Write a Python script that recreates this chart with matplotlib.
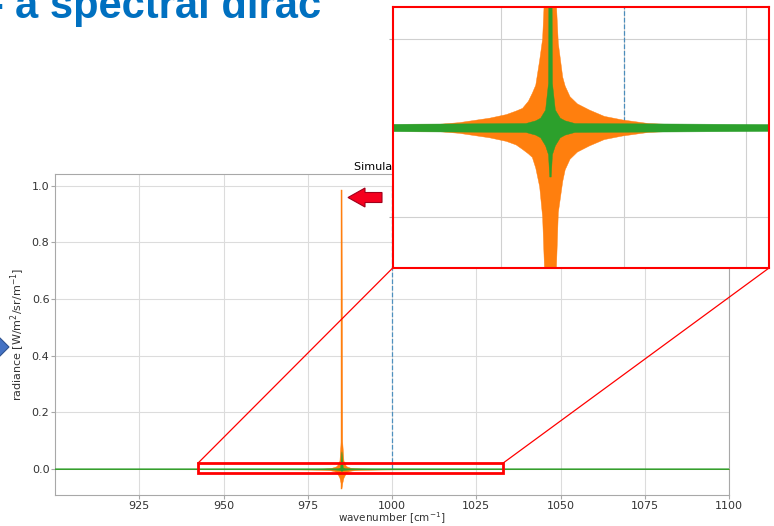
import matplotlib
matplotlib.use("Agg")
import matplotlib.pyplot as plt
from matplotlib.patches import Rectangle, Polygon, ConnectionPatch
import numpy as np

# --- data ----------------------------------------------------------------
dirac_x = 1000.0          # position of the input dirac (dashed)
dirac_height = 1.0
peak_x = 985.0            # where the simulated line shows up

# orange: simulated spectrum, envelope around the peak (offsets in cm-1)
orange_dx = [-100, -44, -32, -23, -18.6, -12.4, -9, -7, -5.7, -4.5, -3.7, -3, -2.2,
             -1.6, -1.2, -0.6, -0.2, 0, 0.2, 0.6, 1.2, 1.6, 2.5, 3, 4, 5.5, 8, 11,
             14.7, 20, 28, 44, 115]
orange_hi = [0.0002, 0.0002, 0.0003, 0.0004, 0.0006, 0.0011, 0.0015, 0.0019, 0.0022,
             0.003, 0.0039, 0.0048, 0.0076, 0.010, 0.015, 0.03, 0.1, 0.986, 0.1, 0.03,
             0.014, 0.0095, 0.0057, 0.0047, 0.0035, 0.0027, 0.002, 0.0013, 0.0009,
             0.0005, 0.0003, 0.0002, 0.0002]
orange_lo = [-0.0002, -0.0002, -0.0003, -0.0004, -0.0006, -0.0011, -0.0015, -0.0019,
             -0.0024, -0.0029, -0.0033, -0.0045, -0.0066, -0.010, -0.016, -0.03, -0.05,
             -0.066, -0.05, -0.03, -0.016, -0.0095, -0.006, -0.0047, -0.0035, -0.0027,
             -0.002, -0.0013, -0.0009, -0.0005, -0.0003, -0.0002, -0.0002]

# green: second simulation, much narrower
green_dx = [-100, -5, -3, -2, -1, -0.4, -0.15, 0, 0.15, 0.4, 1, 2, 3, 5, 115]
green_hi = [0.0002, 0.0005, 0.0008, 0.0011, 0.002, 0.005, 0.04, 0.063, 0.04, 0.005,
            0.002, 0.0011, 0.0008, 0.0005, 0.0002]
green_lo = [-0.0002, -0.0005, -0.0008, -0.0011, -0.002, -0.003, -0.0055, -0.0055,
            -0.0055, -0.003, -0.002, -0.0011, -0.0008, -0.0005, -0.0002]

x_ticks = [925, 950, 975, 1000, 1025, 1050, 1075, 1100]
y_ticks = [0.0, 0.2, 0.4, 0.6, 0.8, 1.0]
zoom_box = (942.4, 1032.9, -0.014, 0.021)

W, H = 774, 526
fig = plt.figure(figsize=(W / 100, H / 100), dpi=100)


def px(x, y):
    return (x / W, 1 - y / H)


def draw(a, zero_lw):
    a.plot([dirac_x, dirac_x], [0, dirac_height], ls='--', color='C0', lw=0.9,
           alpha=0.75, zorder=2)
    xo = peak_x + np.array(orange_dx)
    a.fill_between(xo, orange_lo, orange_hi, color='C1', lw=0.3, zorder=3)
    a.plot([peak_x, peak_x], [min(orange_lo), max(orange_hi)], color='C1', lw=1.0, zorder=3)
    a.plot([880, 1120], [0, 0], color='C2', lw=zero_lw, alpha=0.7, zorder=4)
    xg = peak_x + np.array(green_dx)
    a.fill_between(xg, green_lo, green_hi, color='C2', lw=0.3, zorder=4)


grey = '#a8a8a8'

ax = fig.add_axes([55 / W, 1 - 495 / H, 674 / W, 321 / H])
draw(ax, 1.2)
ax.set_xlim(900, 1100)
ax.set_ylim(-0.091, 1.041)
ax.set_xticks(x_ticks)
ax.set_yticks(y_ticks)
ax.grid(True, color='#dcdcdc', lw=0.8)
ax.set_axisbelow(True)
for s in ax.spines.values():
    s.set_color(grey)
ax.tick_params(colors=grey, labelcolor='#333333', labelsize=8, length=3, pad=1)
ax.set_xlabel("wavenumber [cm$^{-1}$]", fontsize=7.5, color='#333333')
ax.set_ylabel("radiance [W/m$^2$/sr/m$^{-1}$]", fontsize=8, color='#333333')
ax.xaxis.set_label_coords(0.5, -0.049)
ax.yaxis.set_label_coords(-0.041, 0.5)
ax.set_title("Simulated ILS", fontsize=8, pad=3)

x0, x1, y0, y1 = zoom_box
ax.add_patch(Rectangle((x0, y0), x1 - x0, y1 - y0, fill=False, ec='red', lw=2, zorder=6))

# inset (zoom)
iax = fig.add_axes([392.7 / W, 1 - 268 / H, 376.3 / W, 261.3 / H])
iax.set_facecolor('white')
draw(iax, 2.0)
iax.set_xlim(952.8, 1029.6)
iax.set_ylim(-0.0157, 0.0136)
iax.set_xticks([975, 1000, 1025])
iax.set_yticks([-0.01, 0.01])
iax.set_xticklabels([])
iax.set_yticklabels([])
iax.grid(True, color='#d0d0d0', lw=0.8)
iax.set_axisbelow(True)
iax.tick_params(axis='y', colors=grey, length=3)
iax.tick_params(axis='x', length=0)
for s in iax.spines.values():
    s.set_color('red')
    s.set_linewidth(1.5)
    s.set_zorder(10)

for xa, xb in [((x0, y1), (0, 0)), ((x1, y1), (1, 0))]:
    fig.add_artist(ConnectionPatch(xyA=xa, coordsA=ax.transData, xyB=xb,
                                   coordsB=iax.transAxes, color='red', lw=0.9))

# slide decorations
fig.text(15 / W, 1 - 18 / H, "a spectral dirac", family='Liberation Sans',
         weight='bold', fontsize=30, color='#0070c0', va='baseline', ha='left')
fig.text(3 / W, 1 - 18 / H, "-", family='Liberation Sans',
         weight='bold', fontsize=30, color='#0070c0', va='baseline', ha='right')

red_arrow = [px(348, 197.5), px(365, 188), px(365, 192.5), px(382, 192.5),
             px(382, 202.5), px(365, 202.5), px(365, 207)]
fig.add_artist(Polygon(red_arrow, closed=True, transform=fig.transFigure,
                       fc='#f5001e', ec='#a0001a', lw=0.8))
blue_arrow = [px(-12, 338), px(0, 338), px(9, 347), px(0, 356), px(-12, 356)]
fig.add_artist(Polygon(blue_arrow, closed=True, transform=fig.transFigure,
                       fc='#4472c4', ec='#2f528f', lw=0.8))

fig.savefig("out.png", dpi=100)
